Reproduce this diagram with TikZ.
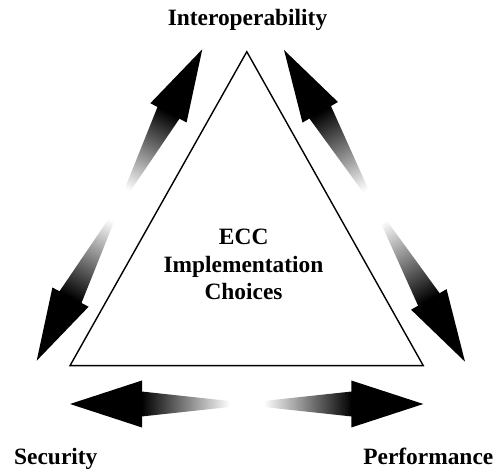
\documentclass[tikz,border=0pt]{standalone}
\usepackage{fontspec}
\setmainfont{Liberation Serif}
\pgfdeclarehorizontalshading{ecfadeR}{100bp}{color(0bp)=(black); color(25bp)=(black); color(67bp)=(white); color(100bp)=(white)}
\pgfdeclarehorizontalshading{ecfadeL}{100bp}{color(0bp)=(white); color(33bp)=(white); color(75bp)=(black); color(100bp)=(black)}
\tikzset{
  lbl/.style={font=\fontsize{23.4}{27.5}\selectfont\bfseries, inner sep=0pt, anchor=base},
  tri/.style={draw=black, line width=1.4pt, line join=miter, fill=white},
  headfill/.style={fill=black},
}
% #1,#2: start tip, #3: angle, #4: length, #5: head half-width
\def\ecgradarrow#1#2#3#4#5{%
  \begin{scope}[transform canvas={shift={(#1pt,#2pt)}, rotate=#3}]
    \path[shading=ecfadeR] (71.5,12.5) -- ({#4/2},1.2) -- ({#4/2},-1.2) -- (71.5,-12.5) -- cycle;
    \path[shading=ecfadeL] ({#4/2},1.2) -- ({#4-71.5},12.5) -- ({#4-71.5},-12.5) -- ({#4/2},-1.2) -- cycle;
    \path[headfill] (0,0) -- (72,#5) -- (72,-#5) -- cycle;
    \path[headfill] (#4,0) -- ({#4-72},#5) -- ({#4-72},-#5) -- cycle;
  \end{scope}}
\begin{document}
\begin{tikzpicture}[x=1pt,y=1pt]
  \useasboundingbox (0,0) rectangle (499,471);
  % triangle
  \coordinate (apex) at (246.8,419.3);
  \coordinate (bl) at (70,105.3);
  \coordinate (br) at (423.3,105.3);
  \draw[tri] (apex) -- (bl) -- (br) -- cycle;
  % labels
  \node[lbl] (interop) at (247.5,445) {Interoperability};
  \node[lbl] (ecc) at (243.7,226) {ECC};
  \node[lbl] (impl) at (243.5,198) {Implementation};
  \node[lbl] (choices) at (243.5,171) {Choices};
  \node[lbl] (security) at (55.8,6.5) {Security};
  \node[lbl] (perf) at (428.3,6.5) {Performance};
  % arrows
  \ecgradarrow{36.7}{110.3}{62.0}{352.7}{20.5}
  \ecgradarrow{465}{109.3}{120.14}{360.4}{20.5}
  \ecgradarrow{70}{67}{0}{353.3}{23.5}
\end{tikzpicture}
\end{document}
